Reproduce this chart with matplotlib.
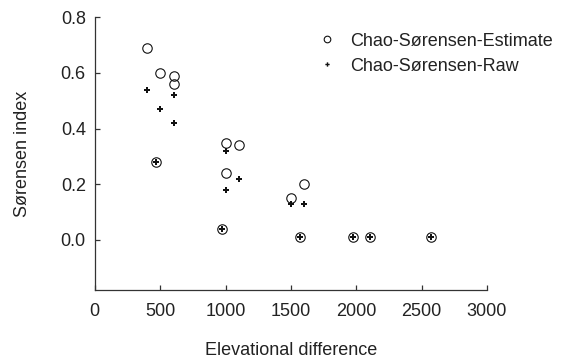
import matplotlib.pyplot as plt

plt.rcParams["font.family"] = ["Liberation Sans", "DejaVu Sans"]

# estimated similarity (open circles)
est_x = [397, 499, 604, 604, 470, 1000, 1103, 1000, 975, 1502, 1602, 1573, 1975, 2103, 2573]
est_y = [0.69, 0.60, 0.59, 0.56, 0.28, 0.35, 0.34, 0.24, 0.04, 0.15, 0.20, 0.01, 0.01, 0.01, 0.01]

# raw similarity (crosses)
raw_x = [401, 501, 604, 604, 470, 1003, 1105, 1003, 975, 1502, 1604, 1573, 1975, 2103, 2573]
raw_y = [0.54, 0.47, 0.52, 0.42, 0.28, 0.32, 0.22, 0.18, 0.04, 0.13, 0.13, 0.01, 0.01, 0.01, 0.01]

xticks = [0, 500, 1000, 1500, 2000, 2500, 3000]
yticks = [0.0, 0.2, 0.4, 0.6, 0.8]

FS = 13
TXT = "#222222"

fig = plt.figure(figsize=(5.61, 3.59), dpi=100)
ax = fig.add_axes([0.169, 0.192, 0.699, 0.760])

ax.plot(est_x, est_y, "o", ms=6.8, mfc="none", mec="#111111", mew=0.8,
        label="Chao-Sørensen-Estimate", clip_on=False)
ax.plot(raw_x, raw_y, "P", ms=4.4, color="#111111", mew=0,
        label="Chao-Sørensen-Raw", clip_on=False)

ax.set_xlim(0, 3000)
ax.set_ylim(-0.18, 0.8)
ax.set_xticks(xticks)
ax.set_yticks(yticks)
ax.set_yticklabels([f"{v:.1f}" for v in yticks])

for side in ["top", "right"]:
    ax.spines[side].set_visible(False)
for side in ["left", "bottom"]:
    ax.spines[side].set_color("#333333")
    ax.spines[side].set_linewidth(0.9)

ax.tick_params(direction="in", length=3.5, width=0.9, color="#333333",
               labelsize=FS, labelcolor=TXT)
ax.tick_params(axis="x", pad=9)
ax.tick_params(axis="y", pad=6.5)

ax.set_xlabel("Elevational difference", fontsize=FS, color=TXT, labelpad=16.5)
ax.set_ylabel("Sørensen index", fontsize=FS, color=TXT, labelpad=21)

ax.legend(loc="upper left", bbox_to_anchor=(0.532, 0.99), frameon=False,
          fontsize=FS, markerscale=0.7, handlelength=1.2, handletextpad=0.7,
          labelspacing=0.45, borderpad=0.2, labelcolor=TXT)

fig.savefig("out.png", dpi=100)
